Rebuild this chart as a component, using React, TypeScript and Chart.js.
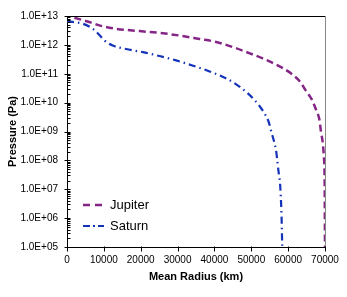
import React, { useEffect, useRef } from "react";
import { Chart, registerables } from "chart.js";

Chart.register(...registerables);

const jupiterRadius = [2000, 6000, 9700, 13300, 19700, 25100, 30600, 36000, 40500, 45100, 49600, 54100, 58200, 60900, 63200, 64800, 66400, 67500, 68500, 68900, 69400, 69700, 69900, 70000];
const jupiterPressure = [8.7e12, 6.2e12, 4.4e12, 3.6e12, 3.0e12, 2.6e12, 2.1e12, 1.6e12, 1.26e12, 8.3e11, 5.1e11, 3.0e11, 1.66e11, 1.0e11, 5.4e10, 2.6e10, 1.3e10, 6.0e9, 2.5e9, 1.0e9, 4.0e8, 1.26e8, 2.0e7, 1e5];

const saturnRadius = [0, 4300, 7000, 8800, 10200, 12400, 16000, 20600, 25100, 29600, 34200, 38700, 43200, 46400, 48700, 50700, 52300, 53700, 54800, 55500, 56200, 56800, 57100, 57500, 57800, 58200, 58400];
const saturnPressure = [6.5e12, 5.4e12, 3.6e12, 2.2e12, 1.4e12, 9.5e11, 7.2e11, 5.6e11, 4.1e11, 2.9e11, 1.9e11, 1.2e11, 6.9e10, 3.9e10, 2.3e10, 1.3e10, 7.4e9, 4.0e9, 2.0e9, 9.1e8, 4.4e8, 1.9e8, 8.7e7, 3.2e7, 1.6e7, 1.3e6, 1e5];

const seriesNames = ["Jupiter", "Saturn"];
const xTitle = "Mean Radius (km)";
const yTitle = "Pressure (Pa)";
const xMin = 0;
const xMax = 70000;
const xStep = 10000;
const yMin = 1e5;
const yMax = 1e13;

const FONT = "'Liberation Sans', Arial, sans-serif";
const JUP_COLOR = "#852585";
const SAT_COLOR = "#1433b8";

function fmtExp(v: number): string {
  const e = Math.round(Math.log10(v));
  return "1.0E" + (e >= 0 ? "+" : "-") + String(Math.abs(e)).padStart(2, "0");
}

const ticksAndLegend = {
  id: "ticksAndLegend",
  afterDraw(chart: any) {
    const { ctx, chartArea, scales } = chart;
    const ys = scales.y;
    const xs = scales.x;
    ctx.save();
    ctx.lineWidth = 1;
    ctx.strokeStyle = "#000";
    ctx.beginPath();
    ctx.moveTo(chartArea.left, chartArea.top + 0.5);
    ctx.lineTo(chartArea.right, chartArea.top + 0.5);
    ctx.stroke();
    ctx.strokeStyle = "#888";
    ctx.beginPath();
    ctx.moveTo(chartArea.right + 0.5, chartArea.top);
    ctx.lineTo(chartArea.right + 0.5, chartArea.bottom);
    ctx.stroke();
    ctx.strokeStyle = "#000";
    const lx = Math.round(chartArea.left) + 0.5;
    for (let d = 5; d <= 13; d++) {
      const p = Math.round(ys.getPixelForValue(Math.pow(10, d))) + 0.5;
      ctx.beginPath();
      ctx.moveTo(lx - 3, p);
      ctx.lineTo(lx + 3, p);
      ctx.stroke();
      if (d < 13) {
        for (let k = 2; k <= 9; k++) {
          const q = Math.round(ys.getPixelForValue(k * Math.pow(10, d))) + 0.5;
          ctx.beginPath();
          ctx.moveTo(lx, q);
          ctx.lineTo(lx + 3, q);
          ctx.stroke();
        }
      }
    }
    const by = Math.round(chartArea.bottom) + 0.5;
    for (let v = xMin; v <= xMax; v += xStep) {
      const p = Math.round(xs.getPixelForValue(v)) + 0.5;
      ctx.beginPath();
      ctx.moveTo(p, by - 1);
      ctx.lineTo(p, by + 4);
      ctx.stroke();
    }
    const x0 = chartArea.left + 16;
    const rows = [chartArea.bottom - 42, chartArea.bottom - 21];
    const dashes = [[7, 5], [7, 3, 2, 3]];
    const colors = [JUP_COLOR, SAT_COLOR];
    const widths = [2.5, 2.2];
    ctx.font = "13px " + FONT;
    ctx.textBaseline = "middle";
    ctx.textAlign = "left";
    rows.forEach((y, i) => {
      ctx.strokeStyle = colors[i];
      ctx.lineWidth = widths[i];
      ctx.setLineDash(dashes[i]);
      ctx.beginPath();
      ctx.moveTo(x0, y);
      ctx.lineTo(x0 + 21, y);
      ctx.stroke();
      ctx.setLineDash([]);
      ctx.fillStyle = "#000";
      ctx.fillText(seriesNames[i], x0 + 27, y + 0.5);
    });
    ctx.restore();
  },
};

export default function App() {
  const ref = useRef<HTMLCanvasElement>(null);
  useEffect(() => {
    document.body.style.margin = "0";
    const canvas = ref.current!;
    const chart = new Chart(canvas, {
      type: "line",
      data: {
        datasets: [
          {
            label: seriesNames[0],
            data: jupiterRadius.map((r, i) => ({ x: r, y: jupiterPressure[i] })),
            borderColor: JUP_COLOR,
            borderWidth: 2.5,
            borderDash: [7, 4],
            pointRadius: 0,
            fill: false,
            cubicInterpolationMode: "monotone",
          },
          {
            label: seriesNames[1],
            data: saturnRadius.map((r, i) => ({ x: r, y: saturnPressure[i] })),
            borderColor: SAT_COLOR,
            borderWidth: 2.2,
            borderDash: [7, 4, 1.5, 4],
            pointRadius: 0,
            fill: false,
            cubicInterpolationMode: "monotone",
          },
        ],
      },
      options: {
        animation: false,
        responsive: false,
        maintainAspectRatio: false,
        layout: { padding: { top: 16, right: 22, left: 0, bottom: 0 } },
        plugins: { legend: { display: false }, tooltip: { enabled: false } },
        scales: {
          x: {
            type: "linear",
            min: xMin,
            max: xMax,
            grid: { display: false, drawTicks: false },
            border: { display: true, color: "#000", width: 1 },
            ticks: {
              stepSize: xStep,
              padding: 7,
              color: "#000",
              font: { family: FONT, size: 10 },
              maxRotation: 0,
              callback: (v: any) => String(v),
            },
            title: {
              display: true,
              text: xTitle,
              color: "#000",
              font: { family: FONT, size: 11, weight: "bold" },
              padding: { top: 0, bottom: 13 },
            },
            afterFit: (s: any) => {
              s.height = 50;
            },
          },
          y: {
            type: "logarithmic",
            min: yMin,
            max: yMax,
            grid: { display: false, drawTicks: false },
            border: { display: true, color: "#000", width: 1 },
            ticks: {
              autoSkip: false,
              padding: 9,
              color: "#000",
              font: { family: FONT, size: 10 },
              callback: (v: any) => {
                const l = Math.log10(v);
                return Math.abs(l - Math.round(l)) < 1e-9 ? fmtExp(v) : "";
              },
            },
            title: {
              display: true,
              text: yTitle,
              color: "#000",
              font: { family: FONT, size: 11, weight: "bold" },
              padding: { top: 6, bottom: 0 },
            },
            afterFit: (s: any) => {
              s.width = 67;
            },
          },
        },
      },
      plugins: [ticksAndLegend],
    });
    return () => chart.destroy();
  }, []);
  return (
    <div style={{ width: 347, height: 297, background: "#fff" }}>
      <canvas ref={ref} width={347} height={297} style={{ display: "block" }} />
    </div>
  );
}
